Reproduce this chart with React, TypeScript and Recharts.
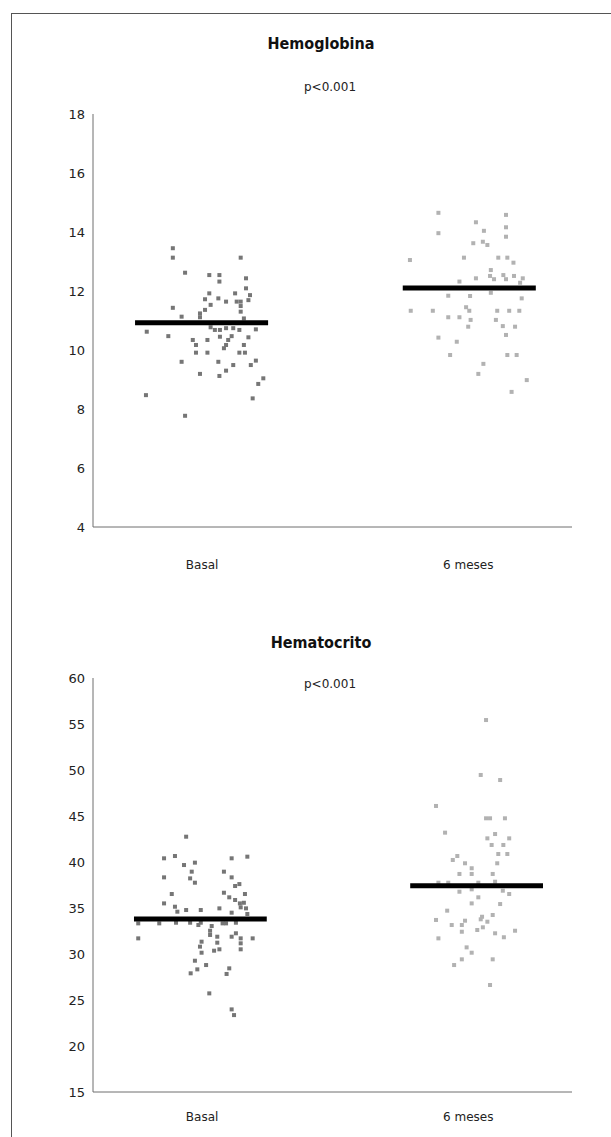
import { ScatterChart, Scatter, XAxis, YAxis } from 'recharts';

const categories = ['Basal', '6 meses'];

// Hemoglobina
const hbTicks = [4, 6, 8, 10, 12, 14, 16, 18];
const hbBasalX = [0.890, 0.890, 1.145, 0.936, 1.027, 1.065, 1.065, 1.165, 1.165, 1.027, 1.124, 1.180, 1.011, 1.061, 1.090, 1.130, 1.145, 1.174, 1.032, 1.145, 0.890, 1.011, 0.992, 1.145, 0.923, 0.992, 1.157, 1.032, 1.048, 1.067, 1.090, 1.117, 1.140, 1.202, 0.792, 0.873, 0.965, 0.977, 1.020, 1.067, 1.098, 1.090, 1.111, 1.174, 1.157, 1.082, 0.977, 1.020, 1.140, 1.161, 0.923, 1.061, 1.117, 1.090, 1.202, 1.183, 0.992, 1.065, 1.230, 1.211, 0.789, 1.190, 0.936];
const hbBasalY = [13.45, 13.13, 13.13, 12.62, 12.54, 12.54, 12.32, 12.43, 12.09, 11.92, 11.92, 11.86, 11.72, 11.75, 11.64, 11.64, 11.64, 11.69, 11.53, 11.49, 11.43, 11.36, 11.24, 11.30, 11.13, 11.11, 11.07, 10.77, 10.68, 10.68, 10.74, 10.74, 10.68, 10.70, 10.62, 10.47, 10.34, 10.17, 10.34, 10.45, 10.34, 10.17, 10.47, 10.43, 10.17, 10.06, 9.91, 9.91, 9.91, 9.91, 9.60, 9.60, 9.49, 9.30, 9.64, 9.49, 9.19, 9.12, 9.04, 8.85, 8.47, 8.36, 7.77];
const hb6mX = [1.888, 2.142, 2.029, 2.059, 2.142, 2.142, 1.888, 2.019, 2.055, 2.072, 1.781, 1.984, 2.113, 2.147, 2.170, 2.085, 2.082, 2.132, 2.172, 2.029, 2.097, 2.142, 2.205, 2.195, 1.967, 1.925, 2.007, 2.085, 2.201, 1.784, 1.867, 1.992, 2.004, 2.109, 2.154, 2.192, 1.925, 1.967, 2.009, 2.104, 2.000, 2.130, 2.176, 2.142, 1.888, 1.957, 1.932, 2.147, 2.182, 2.057, 2.038, 2.220, 2.163];
const hb6mY = [14.65, 14.58, 14.33, 14.04, 14.16, 13.84, 13.96, 13.62, 13.67, 13.56, 13.05, 13.13, 13.13, 13.13, 12.96, 12.71, 12.51, 12.54, 12.51, 12.43, 12.40, 12.40, 12.43, 12.28, 12.32, 11.84, 11.83, 11.94, 11.75, 11.33, 11.33, 11.45, 11.33, 11.33, 11.33, 11.33, 11.11, 11.11, 11.02, 11.02, 10.79, 10.81, 10.79, 10.51, 10.42, 10.28, 9.83, 9.83, 9.83, 9.53, 9.19, 8.98, 8.58];
const hbMeans = [10.92, 12.1];
const hbMeanFrom = [0.748, 1.754];
const hbMeanTo = [1.248, 2.254];

// Hematocrito
const htoTicks = [15, 20, 25, 30, 35, 40, 45, 50, 55, 60];
const htoBasalX = [0.940, 0.857, 0.898, 1.111, 1.170, 0.932, 0.973, 0.961, 1.082, 0.857, 0.955, 0.973, 1.111, 1.124, 1.140, 0.886, 1.082, 1.161, 1.102, 1.124, 0.857, 1.142, 1.157, 0.898, 1.145, 1.165, 0.907, 0.940, 0.995, 1.065, 1.111, 1.170, 0.760, 0.839, 0.902, 0.955, 0.986, 0.995, 1.036, 1.077, 1.090, 1.127, 1.030, 1.030, 1.057, 0.760, 1.111, 1.127, 1.145, 1.190, 1.057, 0.998, 0.992, 1.145, 0.998, 1.045, 1.065, 1.145, 0.973, 1.015, 0.982, 0.957, 1.102, 1.092, 1.027, 1.111, 1.120];
const htoBasalY = [42.75, 40.4, 40.65, 40.4, 40.58, 39.67, 39.93, 38.95, 38.95, 38.33, 38.22, 37.75, 38.33, 37.39, 37.6, 36.52, 36.66, 36.52, 36.16, 35.87, 35.5, 35.5, 35.57, 35.14, 35.07, 34.96, 34.6, 34.78, 34.78, 34.96, 34.49, 34.35, 33.33, 33.33, 33.4, 33.4, 33.15, 33.4, 33.04, 33.33, 33.33, 33.4, 32.53, 32.07, 31.88, 31.7, 31.88, 32.25, 31.7, 31.7, 31.23, 31.34, 30.8, 31.16, 30.14, 30.36, 30.51, 30.51, 29.27, 28.8, 28.33, 27.9, 28.44, 27.83, 25.72, 23.98, 23.36];
const hto6mX = [2.067, 2.047, 2.120, 1.879, 2.067, 2.082, 2.138, 1.913, 2.101, 2.072, 2.154, 2.088, 2.132, 2.113, 2.147, 1.959, 1.942, 2.109, 1.988, 2.013, 2.013, 1.967, 2.092, 1.888, 1.925, 2.038, 2.101, 1.967, 2.013, 2.130, 2.154, 2.038, 2.013, 2.120, 1.921, 2.092, 1.879, 2.052, 2.047, 2.072, 1.988, 1.938, 1.976, 1.976, 2.055, 2.034, 2.176, 2.101, 2.134, 1.888, 1.994, 2.013, 1.976, 1.947, 2.092, 2.082];
const hto6mY = [55.43, 49.46, 48.91, 46.09, 44.75, 44.75, 44.75, 43.19, 43.04, 42.57, 42.57, 41.85, 41.85, 40.87, 40.87, 40.65, 40.22, 39.86, 39.86, 39.32, 38.7, 38.7, 38.7, 37.75, 37.75, 37.75, 37.86, 36.77, 37.03, 36.88, 36.52, 36.16, 35.5, 35.43, 34.71, 34.24, 33.7, 34.05, 33.77, 33.51, 33.62, 33.15, 33.15, 32.42, 32.9, 32.61, 32.53, 32.25, 31.82, 31.7, 30.72, 30.14, 29.42, 28.8, 29.42, 26.63];
const htoMeans = [33.8, 37.42];
const htoMeanFrom = [0.744, 1.782];
const htoMeanTo = [1.243, 2.281];

const zip = (xs: number[], ys: number[]) => xs.map((x, i) => ({ x, y: ys[i] }));

const Square = (fill: string) => (props: any) => (
  <rect x={props.cx - 2} y={props.cy - 2} width={4} height={4} fill={fill} />
);
const NoShape = () => <g />;

const tickFont = { fontFamily: 'DejaVu Sans, sans-serif', fill: '#222' };

type PanelProps = {
  top: number;
  height: number;
  margin: { top: number; right: number; bottom: number; left: number };
  domain: [number, number];
  ticks: number[];
  basal: { x: number; y: number }[];
  later: { x: number; y: number }[];
  means: number[];
  from: number[];
  to: number[];
  labelMargin: number;
};

function Panel(p: PanelProps) {
  return (
    <div style={{ position: 'absolute', left: 0, top: p.top }}>
      <ScatterChart width={611} height={p.height} margin={p.margin}>
        <XAxis
          type="number"
          dataKey="x"
          domain={[0.59, 2.39]}
          allowDataOverflow
          ticks={[1, 2]}
          tickFormatter={(v: number) => categories[v - 1]}
          tickLine={false}
          tickMargin={p.labelMargin}
          axisLine={{ stroke: '#6e6e6e' }}
          tick={{ ...tickFont, fontSize: 12 }}
        />
        <YAxis
          type="number"
          dataKey="y"
          width={93}
          domain={p.domain}
          allowDataOverflow
          ticks={p.ticks}
          interval={0}
          tickLine={false}
          axisLine={{ stroke: '#6e6e6e' }}
          tick={{ ...tickFont, fontSize: 13 }}
        />
        <Scatter data={p.basal} shape={Square('#767676')} isAnimationActive={false} />
        <Scatter data={p.later} shape={Square('#b2b2b2')} isAnimationActive={false} />
        {p.means.map((m, i) => (
          <Scatter
            key={i}
            data={[{ x: p.from[i], y: m }, { x: p.to[i], y: m }]}
            line={{ stroke: '#000', strokeWidth: 5 }}
            shape={NoShape}
            isAnimationActive={false}
          />
        ))}
      </ScatterChart>
    </div>
  );
}

const titleStyle = (top: number): React.CSSProperties => ({
  position: 'absolute',
  left: 221,
  width: 200,
  top,
  textAlign: 'center',
  fontFamily: "'DejaVu Sans Condensed', 'DejaVu Sans', sans-serif",
  fontStretch: 'condensed',
  fontWeight: 700,
  fontSize: 16,
  lineHeight: '20px',
  color: '#111',
});

const pStyle = (top: number): React.CSSProperties => ({
  position: 'absolute',
  left: 280,
  width: 100,
  top,
  textAlign: 'center',
  fontFamily: 'DejaVu Sans, sans-serif',
  fontSize: 12,
  lineHeight: '16px',
  color: '#222',
});

export default function App() {
  return (
    <div style={{ position: 'absolute', left: 0, top: 0, width: 611, height: 1137, background: '#fff', overflow: 'hidden' }}>
      <div style={{ position: 'absolute', left: 11, top: 13, width: 700, height: 1200, borderTop: '1px solid #555', borderLeft: '1px solid #555' }} />
      <div style={titleStyle(34)}>Hemoglobina</div>
      <div style={pStyle(79)}>p&lt;0.001</div>
      <Panel
        top={0}
        height={600}
        margin={{ top: 114, right: 39, bottom: 43, left: 0 }}
        domain={[4, 18]}
        ticks={hbTicks}
        basal={zip(hbBasalX, hbBasalY)}
        later={zip(hb6mX, hb6mY)}
        means={hbMeans}
        from={hbMeanFrom}
        to={hbMeanTo}
        labelMargin={27}
      />
      <div style={titleStyle(633)}>Hematocrito</div>
      <div style={pStyle(676)}>p&lt;0.001</div>
      <Panel
        top={560}
        height={577}
        margin={{ top: 118, right: 39, bottom: 15, left: 0 }}
        domain={[15, 60]}
        ticks={htoTicks}
        basal={zip(htoBasalX, htoBasalY)}
        later={zip(hto6mX, hto6mY)}
        means={htoMeans}
        from={htoMeanFrom}
        to={htoMeanTo}
        labelMargin={14}
      />
    </div>
  );
}
